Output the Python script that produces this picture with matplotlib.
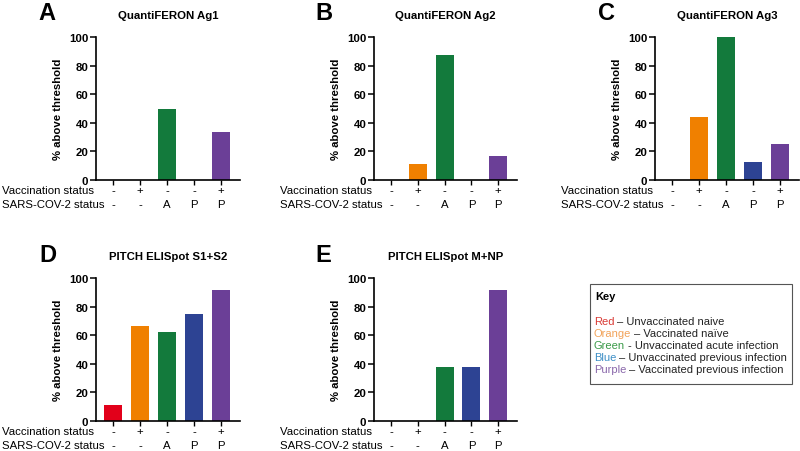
import matplotlib
matplotlib.use("Agg")
import matplotlib.pyplot as plt
import matplotlib.transforms as mtransforms
from matplotlib.patches import Rectangle

plt.rcParams['font.family'] = ['Liberation Sans', 'DejaVu Sans']

vacc_status = ['-', '+', '-', '-', '+']
sars_status = ['-', '-', 'A', 'P', 'P']
bar_colors = ['#e2001a', '#f08000', '#137a3c', '#2d4393', '#6b3f97']

titles = ['QuantiFERON Ag1', 'QuantiFERON Ag2', 'QuantiFERON Ag3',
          'PITCH ELISpot S1+S2', 'PITCH ELISpot M+NP']
letters = ['A', 'B', 'C', 'D', 'E']
ag1 = [0, 0, 50, 0, 33.3]
ag2 = [0, 11.1, 87.5, 0, 16.7]
ag3 = [0, 44.4, 100, 12.5, 25]
s1s2 = [11.1, 66.7, 62.5, 75, 91.7]
mnp = [0, 0, 37.5, 37.5, 91.7]
values = [ag1, ag2, ag3, s1s2, mnp]

yticks = [0, 20, 40, 60, 80, 100]

key_title = 'Key'
key_colors = ['Red', 'Orange', 'Green', 'Blue', 'Purple']
key_text = ['\u2013 Unvaccinated naive', '\u2013 Vaccinated na\u00efve',
            '- Unvaccinated acute infection', '\u2013 Unvaccinated previous infection',
            '\u2013 Vaccinated previous infection']
key_text_colors = ['#d93a35', '#f2a35a', '#3a9a48', '#3d8fc6', '#8a68ab']

FS = 8.2
KFS = 8.0
W, H = 800, 452
fig = plt.figure(figsize=(8, 4.52), dpi=100)

def fx(x):
    return x / W

def fy(y):
    return 1 - y / H

# axes boxes in pixels: left, right, top, bottom
boxes = [(96, 240, 38, 181), (374, 517, 38, 181), (655, 799, 38, 181),
         (96, 240, 279, 422), (374, 517, 279, 422)]

for i, (l, r, t, b) in enumerate(boxes):
    ax = fig.add_axes([fx(l), fy(b), (r - l) / W, (b - t) / H])
    x = range(len(values[i]))
    ax.bar(x, values[i], width=0.67, color=bar_colors, edgecolor='none')
    ax.set_xlim(-0.63, 4.7)
    ax.set_ylim(0, 100)
    ax.set_yticks(yticks)
    ax.set_yticklabels([str(v) for v in yticks], fontsize=FS, fontweight='bold')
    ax.set_xticks(list(x))
    ax.set_xticklabels([])
    ax.tick_params(axis='y', length=4, width=1.1, pad=1.5)
    ax.tick_params(axis='x', length=3.5, width=1.0)
    for s in ['top', 'right']:
        ax.spines[s].set_visible(False)
    for s in ['left', 'bottom']:
        ax.spines[s].set_linewidth(1.2)
    ax.set_ylabel('% above threshold', fontsize=FS, fontweight='bold', labelpad=4)
    ax.set_title(titles[i], fontsize=FS, fontweight='bold', pad=14)
    trans = mtransforms.blended_transform_factory(ax.transData, fig.transFigure)
    for j in x:
        ax.text(j, fy(b + 10), vacc_status[j], transform=trans, ha='center', va='center',
                fontsize=FS)
        ax.text(j, fy(b + 24), sars_status[j], transform=trans, ha='center', va='center',
                fontsize=FS)
    fig.text(fx(l - 94), fy(b + 10), 'Vaccination status', ha='left', va='center', fontsize=FS)
    fig.text(fx(l - 94), fy(b + 24), 'SARS-COV-2 status', ha='left', va='center', fontsize=FS)

letter_pos = [(38, 14), (315, 14), (598, 14), (39, 255), (315, 255)]
for (lx, ly), let in zip(letter_pos, letters):
    fig.text(fx(lx), fy(ly), let, fontsize=17, fontweight='bold', ha='left', va='center')

# Key box
rect = Rectangle((fx(590), fy(385)), (792 - 590) / W, (385 - 285) / H,
                 transform=fig.transFigure, fill=False, edgecolor='#555555', linewidth=0.8)
fig.add_artist(rect)
fig.text(fx(595), fy(297), key_title, fontsize=KFS, fontweight='bold', ha='left', va='center')
fig.canvas.draw()
for k, (cname, txt, col) in enumerate(zip(key_colors, key_text, key_text_colors)):
    yy = fy(322 + 12 * k)
    t1 = fig.text(fx(594), yy, cname, fontsize=KFS, color=col, ha='left', va='center')
    fig.canvas.draw()
    bb = t1.get_window_extent()
    fig.text((bb.x1 + 2.5) / fig.bbox.width, yy, txt, fontsize=KFS, color='#222222',
             ha='left', va='center')

fig.savefig('out.png', dpi=100)
